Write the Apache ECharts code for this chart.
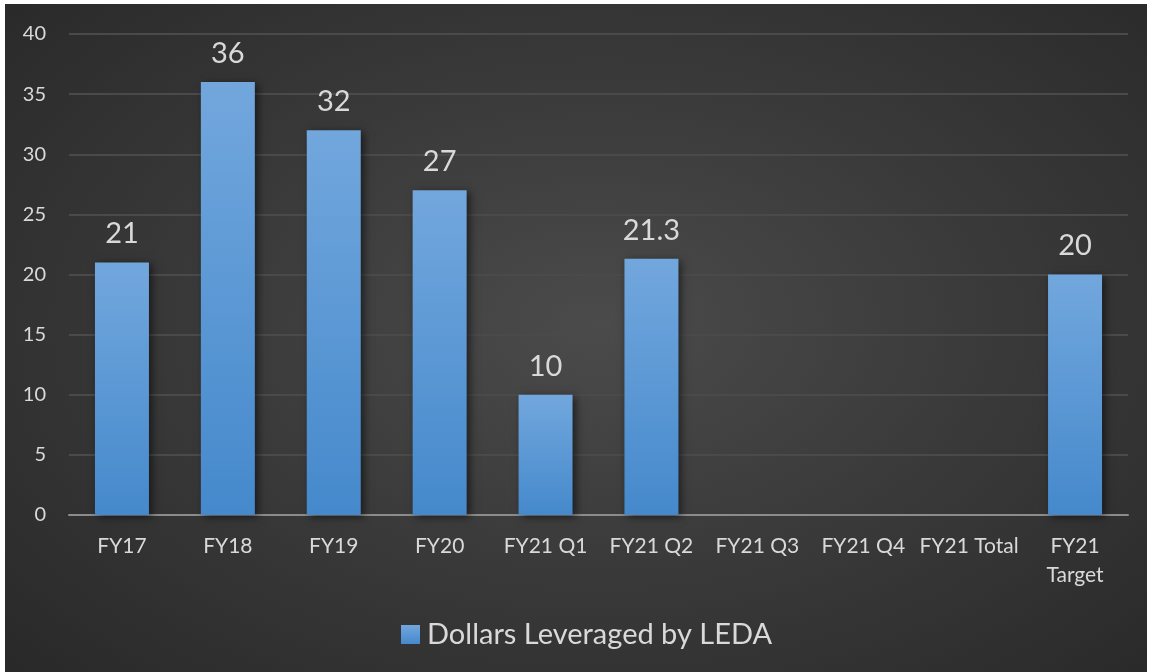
<!DOCTYPE html>
<html>
<head>
<meta charset="utf-8">
<script src="https://cdn.jsdelivr.net/npm/echarts@6/dist/echarts.min.js"></script>
<style>
  html, body { margin: 0; padding: 0; background: #ffffff; }
  #chart {
    position: absolute; left: 5px; top: 4px; width: 1142px; height: 668px;
    background: radial-gradient(ellipse 75% 80% at 52% 48%, #4b4b4b 0%, #3a3a3a 45%, #272727 100%);
  }
</style>
</head>
<body>
<div id="chart"></div>
<script>
// Dollars leveraged per period (null = not yet reported)
const categories = ['FY17', 'FY18', 'FY19', 'FY20', 'FY21 Q1', 'FY21 Q2', 'FY21 Q3', 'FY21 Q4', 'FY21 Total', 'FY21\nTarget'];
const leveraged = [21, 36, 32, 27, 10, 21.3, null, null, null, 20];
const seriesName = 'Dollars Leveraged by LEDA';
const yTicks = { min: 0, max: 40, interval: 5 };

const textColor = '#d9d9d9';
const font = 'Lato, "Open Sans", sans-serif';

const chart = echarts.init(document.getElementById('chart'));
chart.setOption({
  backgroundColor: 'transparent',
  animation: false,
  grid: { left: 64, right: 19, top: 30, bottom: 157 },
  legend: {
    data: [seriesName],
    left: 391,
    top: 611,
    icon: 'rect',
    itemWidth: 19,
    itemHeight: 19,
    itemGap: 8,
    textStyle: { color: textColor, fontSize: 29, fontFamily: font, padding: [0, 0, 0, 2] }
  },
  xAxis: {
    type: 'category',
    data: categories,
    axisTick: { show: false },
    axisLine: { lineStyle: { color: '#8c8c8c', width: 2 } },
    axisLabel: {
      color: textColor, fontSize: 21, fontFamily: font,
      margin: 17, lineHeight: 29, interval: 0
    }
  },
  yAxis: {
    type: 'value',
    min: yTicks.min, max: yTicks.max, interval: yTicks.interval,
    axisLine: { show: false },
    axisTick: { show: false },
    axisLabel: { color: textColor, fontSize: 20, fontFamily: font, margin: 23 },
    splitLine: { lineStyle: { color: '#4a4a4a', width: 2 } }
  },
  series: [{
    name: seriesName,
    type: 'bar',
    data: leveraged,
    barWidth: 54,
    itemStyle: {
      color: new echarts.graphic.LinearGradient(0, 0, 0, 1, [
        { offset: 0, color: '#72a7dd' },
        { offset: 1, color: '#4589cc' }
      ]),
      shadowColor: 'rgba(0,0,0,0.55)',
      shadowBlur: 8,
      shadowOffsetX: 3,
      shadowOffsetY: 2
    },
    label: {
      show: true,
      position: 'top',
      distance: 14,
      color: textColor,
      fontSize: 29,
      fontFamily: font,
      formatter: p => (p.value == null ? '' : String(p.value))
    }
  }]
});
</script>
</body>
</html>
